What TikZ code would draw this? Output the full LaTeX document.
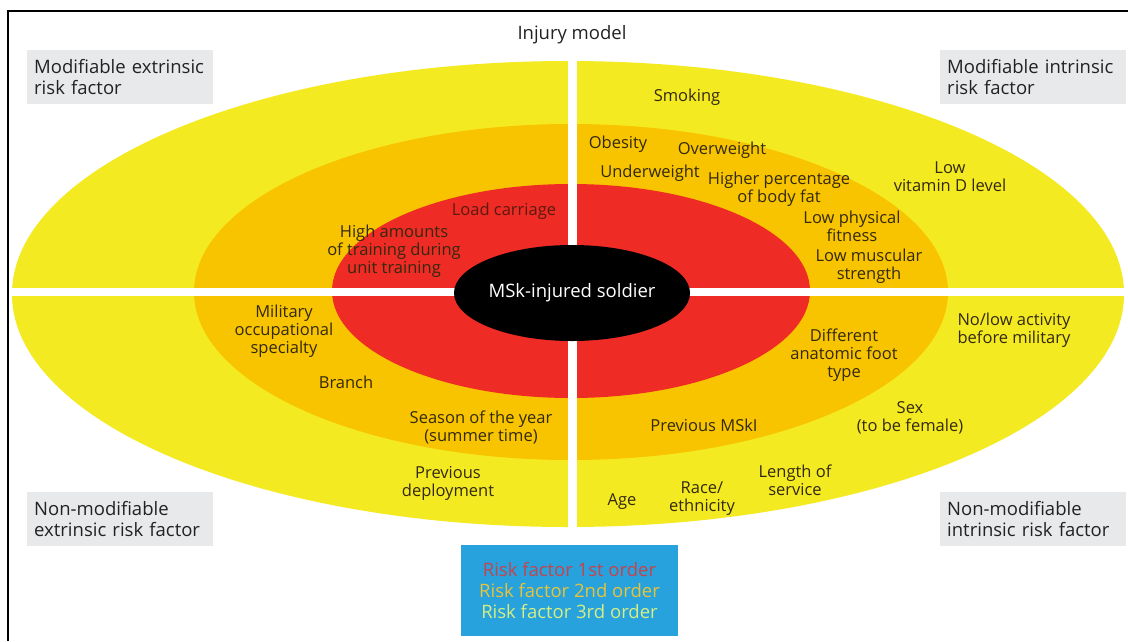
\documentclass[tikz,border=0pt]{standalone}
\usepackage{fontspec}
\setmainfont{Open Sans}
\usetikzlibrary{shapes.geometric}
\definecolor{yel}{HTML}{F4EA22}
\definecolor{org}{HTML}{F8C400}
\definecolor{rd}{HTML}{EE2B24}
\definecolor{legblue}{HTML}{27A2DC}
\definecolor{boxgray}{HTML}{E8E9EB}
\definecolor{txt}{HTML}{33290F}
\definecolor{darktxt}{HTML}{222222}
\definecolor{loadtxt}{HTML}{5A1A10}
\definecolor{lA}{HTML}{C8424B}
\definecolor{lB}{HTML}{E6C33A}
\definecolor{lC}{HTML}{D6EE82}
\begin{document}
\begin{tikzpicture}[x=1pt,y=-1pt,
  ring/.style={ellipse, inner sep=0pt, draw=none},
  lbl/.style={font=\fontsize{16.5}{18}\selectfont, text=txt, align=center, inner sep=0pt},
  corner/.style={fill=boxgray, font=\fontsize{18.5}{21}\selectfont, text=darktxt, align=left,
    text width=172pt, inner xsep=7pt, inner ysep=0pt, minimum height=54pt, anchor=north west},
]
\useasboundingbox (0,0) rectangle (1128,641);
\fill[white] (0,0) rectangle (1128,641);
\draw[line width=1.2pt] (8,641) -- (8,11) -- (1128,11);

\node[font=\fontsize{18.5}{21}\selectfont, text=darktxt, inner sep=0pt] (title) at (572,35) {Injury model};

\node[ring, fill=yel, minimum width=1112pt, minimum height=466pt] (outer) at (568,294) {};
\node[ring, fill=org, minimum width=754pt, minimum height=336pt] (middle) at (571,292) {};
\node[ring, fill=rd, minimum width=478pt, minimum height=214pt] (inner) at (571,291) {};
\fill[white] (568,50) rectangle (577,540);
\fill[white] (10,288) rectangle (1128,296);
\node[ring, fill=black, minimum width=234pt, minimum height=96pt, text=white,
  font=\fontsize{18.5}{21}\selectfont] (core) at (572,293) {MSk-injured soldier};

\node[corner] (me) at (27,50) {Modifiable extrinsic\\risk factor};
\node[corner] (mi) at (940,50) {Modifiable intrinsic\\risk factor};
\node[corner] (ne) at (27,492) {Non-modifiable\\extrinsic risk factor};
\node[corner] (ni) at (940,492) {Non-modifiable\\intrinsic risk factor};

% upper right
\node[lbl] (smoking) at (687,97) {Smoking};
\node[lbl] (obesity) at (618,144) {Obesity};
\node[lbl] (overweight) at (722,150) {Overweight};
\node[lbl] (underweight) at (650,173) {Underweight};
\node[lbl] (bodyfat) at (779,189) {Higher percentage\\of body fat};
\node[lbl] (fitness) at (852,226) {Low physical\\fitness};
\node[lbl] (strength) at (869,266) {Low muscular\\strength};
\node[lbl] (vitd) at (950,177) {Low\\vitamin D level};

% upper left
\node[lbl, text=loadtxt] (load) at (504,211) {Load carriage};
\node[lbl] (training) at (394,251) {High amounts\\of training during\\unit training};

% lower left
\node[lbl] (mos) at (284,331) {Military\\occupational\\specialty};
\node[lbl] (branch) at (346,382) {Branch};
\node[lbl] (season) at (481,427) {Season of the year\\(summer time)};
\node[lbl] (deploy) at (448,483) {Previous\\deployment};

% lower right
\node[lbl] (foot) at (844,355) {Different\\anatomic foot\\type};
\node[lbl] (mski) at (704,425) {Previous MSkI};
\node[lbl] (sex) at (910,418) {Sex\\(to be female)};
\node[lbl] (activity) at (1014,330) {No/low activity\\before military};
\node[lbl] (service) at (795,480) {Length of\\service};
\node[lbl] (race) at (702,499) {Race/\\ethnicity};
\node[lbl] (age) at (622,502) {Age};

\node[fill=legblue, minimum width=217pt, minimum height=91pt, align=center, inner sep=0pt,
  font=\fontsize{18.5}{21}\selectfont] (legend) at (569.5,590.5)
  {\textcolor{lA}{Risk factor 1st order}\\\textcolor{lB}{Risk factor 2nd order}\\\textcolor{lC}{Risk factor 3rd order}};
\end{tikzpicture}
\end{document}
